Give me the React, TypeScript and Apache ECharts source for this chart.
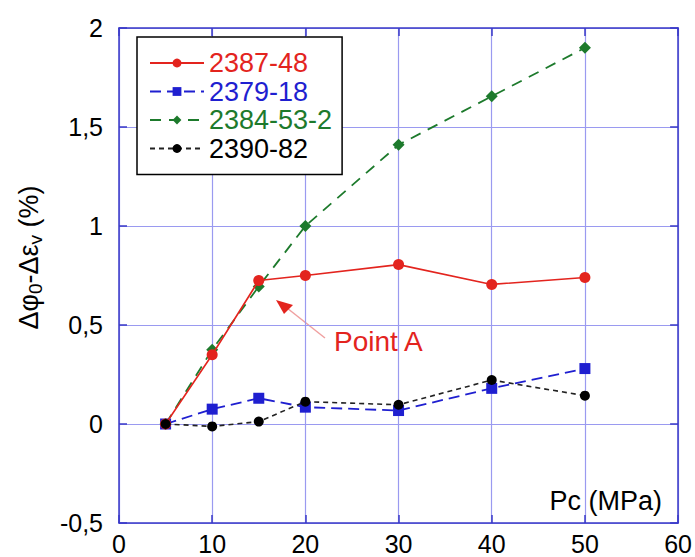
import React, { useEffect, useRef } from "react";
import * as echarts from "echarts";

const pressures = [5, 10, 15, 20, 30, 40, 50];
const s2387 = [0, 0.35, 0.725, 0.75, 0.805, 0.705, 0.74];
const s2379 = [0, 0.075, 0.13, 0.085, 0.068, 0.18, 0.28];
const s2384 = [0, 0.375, 0.695, 1.0, 1.41, 1.655, 1.9];
const s2390 = [0, -0.012, 0.012, 0.113, 0.097, 0.222, 0.143];
const seriesNames = ["2387-48", "2379-18", "2384-53-2", "2390-82"];

const FONT = "Liberation Sans, Arial, sans-serif";
const RED = "#e3241e";
const BLUE = "#1f1fd0";
const GREEN = "#1d7a2c";
const BLACK = "#000000";
const GRID = "#9a9af0";
const AXIS = "#3a3ac8";

const pairs = (ys: number[]) => pressures.map((x, i) => [x, ys[i]]);

export default function App() {
  const ref = useRef<HTMLDivElement>(null);
  useEffect(() => {
    if (!ref.current) return;
    document.body.style.margin = "0";
    const chart = echarts.init(ref.current, undefined, { renderer: "svg" });
    const axisCommon = {
      axisLine: { show: true, onZero: false, lineStyle: { color: AXIS, width: 1.5 } },
      axisTick: { show: true, inside: true, length: 8, lineStyle: { color: AXIS, width: 1.5 } },
    };
    chart.setOption({
      animation: false,
      backgroundColor: "#ffffff",
      grid: { left: 119, right: 16, top: 28, bottom: 34 },
      legend: {
        orient: "vertical",
        left: 137,
        top: 37,
        padding: [12, 10, 12, 12],
        backgroundColor: "#ffffff",
        borderColor: "#000000",
        borderWidth: 1.5,
        itemWidth: 54,
        itemHeight: 11,
        itemGap: 0.5,
        textStyle: { fontSize: 27, lineHeight: 28, fontFamily: FONT },
        data: [
          { name: seriesNames[0], textStyle: { color: RED } },
          { name: seriesNames[1], textStyle: { color: BLUE } },
          { name: seriesNames[2], textStyle: { color: GREEN } },
          { name: seriesNames[3], textStyle: { color: BLACK } },
        ],
      },
      xAxis: [
        {
          type: "value",
          min: 0,
          max: 60,
          interval: 10,
          ...axisCommon,
          axisLabel: { fontSize: 25, color: "#000", fontFamily: FONT, margin: 8 },
          splitLine: { show: true, lineStyle: { color: GRID, width: 1.2 } },
        },
        {
          type: "value",
          position: "top",
          min: 0,
          max: 60,
          interval: 10,
          ...axisCommon,
          axisLabel: { show: false },
          splitLine: { show: false },
        },
      ],
      yAxis: [
        {
          type: "value",
          min: -0.5,
          max: 2,
          interval: 0.5,
          ...axisCommon,
          axisLabel: {
            fontSize: 25,
            color: "#000",
            fontFamily: FONT,
            margin: 16,
            formatter: (v: number) => String(v).replace(".", ","),
          },
          splitLine: { show: true, lineStyle: { color: GRID, width: 1.2 } },
          name: "{a|Δφ}{s|0}{a|-Δε}{s|v}{a| (%)}",
          nameLocation: "middle",
          nameRotate: 90,
          nameGap: 74,
          nameTextStyle: {
            fontFamily: FONT,
            padding: [0, 0, 0, 36],
            rich: {
              a: { fontSize: 27, color: "#000", fontFamily: FONT, lineHeight: 32, verticalAlign: "middle" },
              s: { fontSize: 19, color: "#000", fontFamily: FONT, lineHeight: 14, verticalAlign: "bottom" },
            },
          },
        },
        {
          type: "value",
          position: "right",
          min: -0.5,
          max: 2,
          interval: 0.5,
          ...axisCommon,
          axisLabel: { show: false },
          splitLine: { show: false },
        },
      ],
      series: [
        {
          name: seriesNames[0],
          type: "line",
          data: pairs(s2387),
          symbol: "circle",
          symbolSize: 11,
          itemStyle: { color: RED },
          lineStyle: { color: RED, width: 1.6, type: "solid" },
          z: 4,
        },
        {
          name: seriesNames[1],
          type: "line",
          data: pairs(s2379),
          symbol: "rect",
          symbolSize: 11,
          itemStyle: { color: BLUE },
          lineStyle: { color: BLUE, width: 1.8, type: [11, 6] },
          z: 3,
        },
        {
          name: seriesNames[2],
          type: "line",
          data: pairs(s2384),
          symbol: "diamond",
          symbolSize: 12,
          itemStyle: { color: GREEN },
          lineStyle: { color: GREEN, width: 1.8, type: [11, 8] },
          z: 3,
        },
        {
          name: seriesNames[3],
          type: "line",
          data: pairs(s2390),
          symbol: "circle",
          symbolSize: 10,
          itemStyle: { color: BLACK },
          lineStyle: { color: "#222", width: 1.6, type: [5, 4] },
          z: 5,
        },
      ],
      graphic: [
        {
          type: "text",
          x: 662,
          y: 501,
          style: {
            text: "Pc (MPa)",
            fontSize: 27,
            fontFamily: FONT,
            fill: "#000",
            align: "right",
            verticalAlign: "middle",
          },
        },
        {
          type: "text",
          x: 334,
          y: 341,
          style: {
            text: "Point A",
            fontSize: 28,
            fontFamily: FONT,
            fill: RED,
            align: "left",
            verticalAlign: "middle",
          },
        },
        {
          type: "line",
          shape: { x1: 325, y1: 338, x2: 287, y2: 308 },
          style: { stroke: "#f0a0a0", lineWidth: 1.5 },
        },
        {
          type: "polygon",
          shape: { points: [[276, 300], [293, 305], [284, 314]] },
          style: { fill: RED },
        },
      ],
    });
    return () => chart.dispose();
  }, []);
  return <div ref={ref} style={{ width: 695, height: 557 }} />;
}
